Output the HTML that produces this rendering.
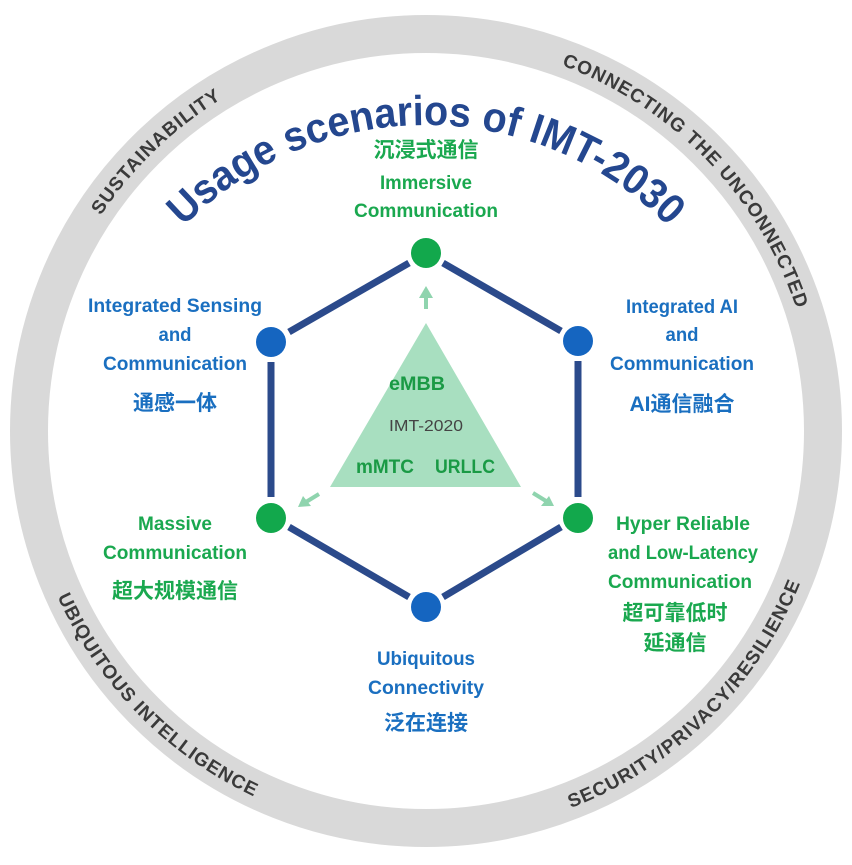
<!DOCTYPE html>
<html><head><meta charset="utf-8"><style>
html,body{margin:0;padding:0;background:#fff;}
svg{display:block;}
.lat{font-family:"Liberation Sans","Noto Sans CJK SC",sans-serif;font-weight:bold;}
.cjk{font-family:"Liberation Sans","Noto Sans CJK SC",sans-serif;font-weight:bold;}
</style></head><body>
<svg width="852" height="865" viewBox="0 0 852 865" xmlns="http://www.w3.org/2000/svg">
<defs>
<path id="topArc" d="M 36,431 A 390 390 0 0 1 816,431"/>
<path id="botArc" d="M 22,431 A 404 404 0 0 0 830,431"/>
<path id="titleArc" d="M 86,465 A 340 340 0 0 1 766,465"/>
</defs>
<circle cx="426" cy="431" r="397" fill="none" stroke="#d9d9d9" stroke-width="38"/>
<g font-family="Liberation Sans, sans-serif" font-weight="bold" font-size="19" fill="#3a3a3a" letter-spacing="1">
<text><textPath href="#topArc" startOffset="313" text-anchor="middle">SUSTAINABILITY</textPath></text>
<text><textPath href="#topArc" startOffset="926" text-anchor="middle">CONNECTING THE UNCONNECTED</textPath></text>
<text><textPath href="#botArc" startOffset="314" text-anchor="middle">UBIQUITOUS INTELLIGENCE</textPath></text>
<text><textPath href="#botArc" startOffset="948" text-anchor="middle">SECURITY/PRIVACY/RESILIENCE</textPath></text>
</g>
<text font-family="Liberation Sans, sans-serif" font-weight="bold" font-size="42" fill="#24478f"><textPath href="#titleArc" startOffset="50%" text-anchor="middle" textLength="540" lengthAdjust="spacingAndGlyphs">Usage scenarios of IMT-2030</textPath></text>

<g stroke="#2b4a8b" stroke-width="7" stroke-linecap="butt">
<line x1="409" y1="263" x2="289" y2="332"/>
<line x1="443" y1="263" x2="561" y2="331"/>
<line x1="271" y1="362" x2="271" y2="497"/>
<line x1="578" y1="361" x2="578" y2="497"/>
<line x1="289" y1="527" x2="409" y2="597"/>
<line x1="561" y1="527" x2="443" y2="597"/>
</g>
<circle cx="426" cy="253" r="15" fill="#12a84c"/>
<circle cx="271" cy="342" r="15" fill="#1565c0"/>
<circle cx="578" cy="341" r="15" fill="#1565c0"/>
<circle cx="271" cy="518" r="15" fill="#12a84c"/>
<circle cx="578" cy="518" r="15" fill="#12a84c"/>
<circle cx="426" cy="607" r="15" fill="#1565c0"/>

<polygon points="426,323 330,487 521,487" fill="#a8dfc0"/>
<g stroke="#8fd4ae" stroke-width="4" fill="#8fd4ae">
<line x1="426" y1="309" x2="426" y2="296"/>
<line x1="319" y1="494" x2="306" y2="502"/>
<line x1="533" y1="493" x2="546" y2="501"/>
</g>
<g fill="#8fd4ae">
<polygon points="426,286 419,298 433,298"/>
<polygon points="298,507 303,496 311,506"/>
<polygon points="554,506 541,506 549,496"/>
</g>
<g class="lat" text-anchor="middle" lengthAdjust="spacingAndGlyphs">
<text x="417" y="390" font-size="19" fill="#1a9a45" textLength="56" lengthAdjust="spacingAndGlyphs">eMBB</text>
<text x="426" y="431" font-size="16" font-weight="normal" fill="#444" textLength="74" lengthAdjust="spacingAndGlyphs">IMT-2020</text>
<text x="385" y="473" font-size="19" fill="#1a9a45" textLength="58" lengthAdjust="spacingAndGlyphs">mMTC</text>
<text x="465" y="473" font-size="19" fill="#1a9a45" textLength="60" lengthAdjust="spacingAndGlyphs">URLLC</text>
</g>

<g class="lat" text-anchor="middle" font-size="19" fill="#1aa84f">
<text x="426" y="189" textLength="92" lengthAdjust="spacingAndGlyphs">Immersive</text>
<text x="426" y="217" textLength="144" lengthAdjust="spacingAndGlyphs">Communication</text>
<text x="175" y="530" textLength="74" lengthAdjust="spacingAndGlyphs">Massive</text>
<text x="175" y="559" textLength="144" lengthAdjust="spacingAndGlyphs">Communication</text>
<text x="683" y="530" textLength="134" lengthAdjust="spacingAndGlyphs">Hyper Reliable</text>
<text x="683" y="559" textLength="150" lengthAdjust="spacingAndGlyphs">and Low-Latency</text>
<text x="680" y="588" textLength="144" lengthAdjust="spacingAndGlyphs">Communication</text>
</g>
<g class="lat" text-anchor="middle" font-size="19" fill="#1a6fc0">
<text x="175" y="312" textLength="174" lengthAdjust="spacingAndGlyphs">Integrated Sensing</text>
<text x="175" y="341" textLength="33" lengthAdjust="spacingAndGlyphs">and</text>
<text x="175" y="370" textLength="144" lengthAdjust="spacingAndGlyphs">Communication</text>
<text x="682" y="313" textLength="112" lengthAdjust="spacingAndGlyphs">Integrated AI</text>
<text x="682" y="341" textLength="33" lengthAdjust="spacingAndGlyphs">and</text>
<text x="682" y="370" textLength="144" lengthAdjust="spacingAndGlyphs">Communication</text>
<text x="426" y="665" textLength="98" lengthAdjust="spacingAndGlyphs">Ubiquitous</text>
<text x="426" y="694" textLength="116" lengthAdjust="spacingAndGlyphs">Connectivity</text>
</g>
<g class="cjk" text-anchor="middle" font-size="21" fill="#1aa84f">
<text x="426" y="157">沉浸式通信</text>
<text x="175" y="598">超大规模通信</text>
<text x="675" y="620">超可靠低时</text>
<text x="675" y="650">延通信</text>
</g>
<g class="cjk" text-anchor="middle" font-size="21" fill="#1a6fc0">
<text x="175" y="410">通感一体</text>
<text x="682" y="411">AI通信融合</text>
<text x="426" y="730">泛在连接</text>
</g>
</svg>
</body></html>
